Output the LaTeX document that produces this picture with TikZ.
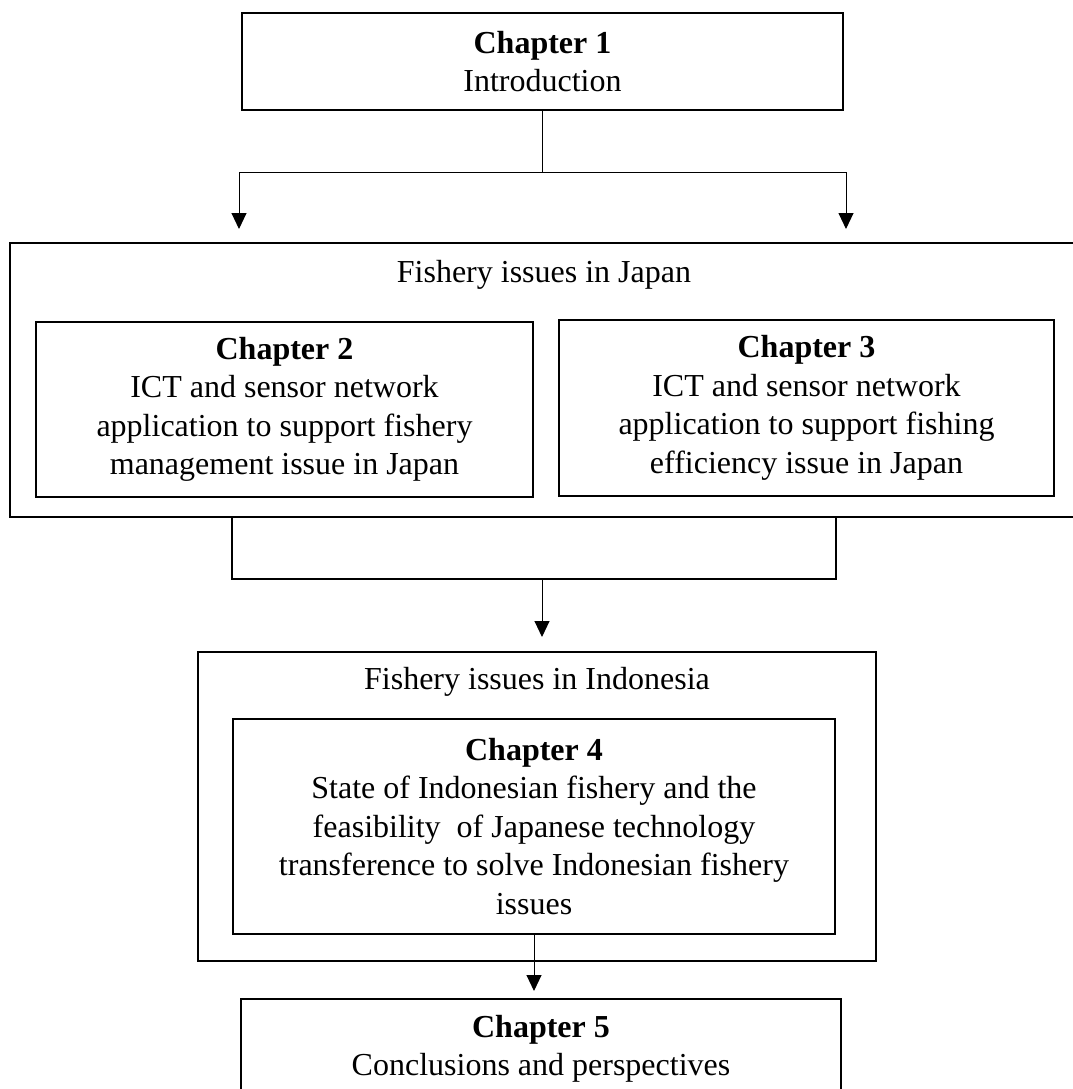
\documentclass[tikz,border=0pt]{standalone}
\usepackage{fontspec}
\setmainfont{Liberation Serif}
\usetikzlibrary{arrows.meta,positioning}
\tikzstyle{chapter} = [draw, line width=2pt, align=center, inner sep=0pt, font=\fontsize{32}{38.5}\selectfont]
\tikzstyle{frame} = [draw, line width=2pt, inner sep=0pt]
\tikzstyle{title} = [font=\fontsize{32}{38.5}\selectfont]
\tikzstyle{bracket} = [line width=2pt]
\tikzstyle{link} = [line width=1pt]
\tikzstyle{arrow} = [line width=1pt,-{Triangle[length=16pt,width=15pt]}]

\begin{document}
\begin{tikzpicture}[x=1pt,y=-1pt]
    \useasboundingbox (0,0) rectangle (1072,1089);
    % group frames
    \node[frame, minimum width=1068pt, minimum height=274pt] (japan) at (544,380) {};
    \node[title] (japantitle) at (544,275) {Fishery issues in Japan};
    \node[frame, minimum width=678pt, minimum height=309pt] (indo) at (537,806.5) {};
    \node[title] (indotitle) at (537,682) {Fishery issues in Indonesia};
    % chapters
    \node[chapter, minimum width=601pt, minimum height=97pt] (ch1) at (542.5,61.5)
        {\textbf{Chapter 1}\\Introduction};
    \node[chapter, minimum width=497pt, minimum height=175pt] (ch2) at (284.5,409.5)
        {\textbf{Chapter 2}\\ICT and sensor network\\application to support fishery\\management issue in Japan};
    \node[chapter, minimum width=495pt, minimum height=176pt] (ch3) at (806.5,408)
        {\textbf{Chapter 3}\\ICT and sensor network\\application to support fishing\\efficiency issue in Japan};
    \node[chapter, minimum width=602pt, minimum height=215pt] (ch4) at (534,826.5)
        {\textbf{Chapter 4}\\State of Indonesian fishery and the\\feasibility~ of Japanese technology\\transference to solve Indonesian fishery\\issues};
    \node[chapter, minimum width=600pt, minimum height=100pt] (ch5) at (541,1049)
        {\textbf{Chapter 5}\\Conclusions and perspectives};
    % connectors
    \coordinate (split) at (542.5,172);
    \coordinate (japanl) at (239,229);
    \coordinate (japanr) at (846,229);
    \coordinate (merge) at (542,579);
    \coordinate (indoin) at (542,637);
    \coordinate (ch5in) at (534,991);
    \draw[link] (ch1.south) -- (split);
    \draw[arrow] (split) -| (japanl);
    \draw[arrow] (split) -| (japanr);
    \draw[bracket] (japan.south -| ch4.west) |- (merge) -| (japan.south -| ch4.east);
    \draw[arrow] (merge) -- (indoin);
    \draw[arrow] (ch4.south) -- (ch5in);
\end{tikzpicture}
\end{document}
